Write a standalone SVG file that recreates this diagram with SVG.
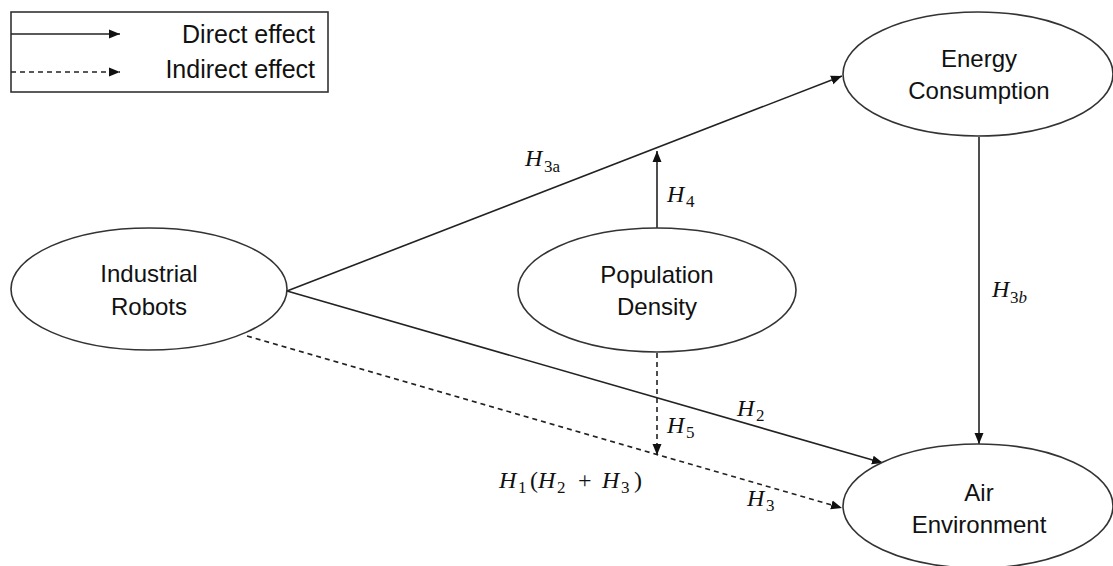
<svg xmlns="http://www.w3.org/2000/svg" width="1113" height="566" viewBox="0 0 1113 566">
<defs>
<marker id="arr" markerUnits="userSpaceOnUse" markerWidth="12" markerHeight="10" refX="11" refY="5" orient="auto">
<path d="M0,0.5 L11,5 L0,9.5 Z" fill="#111"/>
</marker>
</defs>
<style>
.node{fill:#fff;stroke:#333;stroke-width:1.6}
.lbl{font-family:"Liberation Sans",Arial,sans-serif;font-size:24px;fill:#111;text-anchor:middle}
.leg{font-family:"Liberation Sans",Arial,sans-serif;font-size:25px;fill:#111;text-anchor:end}
.ln{stroke:#222;stroke-width:1.6;fill:none}
.dash{stroke-dasharray:5,4}
.m{font-family:"Liberation Serif","Times New Roman",serif;font-size:24px;font-style:italic;fill:#111}
.s{font-family:"Liberation Serif","Times New Roman",serif;font-size:17px;fill:#111}
.u{font-family:"Liberation Serif","Times New Roman",serif;font-size:24px;fill:#111}
</style>
<rect width="1113" height="566" fill="#fff"/>
<g id="legend">
<rect x="11" y="12" width="317" height="80" fill="#fff" stroke="#333" stroke-width="1.6"/>
<line class="ln" x1="11" y1="34" x2="120" y2="34" marker-end="url(#arr)"/>
<line class="ln dash" x1="11" y1="72" x2="120" y2="72" marker-end="url(#arr)"/>
<text class="leg" x="315" y="43">Direct effect</text>
<text class="leg" x="315" y="78">Indirect effect</text>
</g>
<g id="connectors">
<line class="ln" x1="287" y1="291" x2="842" y2="76" marker-end="url(#arr)"/>
<line class="ln" x1="287" y1="291" x2="883" y2="463" marker-end="url(#arr)"/>
<line class="ln dash" x1="247" y1="336" x2="842" y2="508" marker-end="url(#arr)"/>
<line class="ln" x1="657" y1="228" x2="657" y2="151" marker-end="url(#arr)"/>
<line class="ln dash" x1="657" y1="353" x2="657" y2="455" marker-end="url(#arr)"/>
<line class="ln" x1="979" y1="137" x2="979" y2="444" marker-end="url(#arr)"/>
</g>
<g id="node-industrial-robots">
<ellipse class="node" cx="149" cy="289" rx="138" ry="61"/>
<text class="lbl" x="149" y="282">Industrial</text>
<text class="lbl" x="149" y="315">Robots</text>
</g>
<g id="node-population-density">
<ellipse class="node" cx="657" cy="290" rx="139" ry="62"/>
<text class="lbl" x="657" y="283">Population</text>
<text class="lbl" x="657" y="315">Density</text>
</g>
<g id="node-energy-consumption">
<ellipse class="node" cx="978" cy="74" rx="135" ry="62"/>
<text class="lbl" x="979" y="67">Energy</text>
<text class="lbl" x="979" y="99">Consumption</text>
</g>
<g id="node-air-environment">
<ellipse class="node" cx="978" cy="506" rx="135" ry="62"/>
<text class="lbl" x="979" y="501">Air</text>
<text class="lbl" x="979" y="533">Environment</text>
</g>
<g id="labels">
<text class="m" x="525" y="166">H</text><text class="s" x="544" y="172">3a</text>
<text class="m" x="667" y="202">H</text><text class="s" x="686" y="207">4</text>
<text class="m" x="992" y="297">H</text><text class="s" x="1010" y="303">3<tspan font-style="italic">b</tspan></text>
<text class="m" x="737" y="416">H</text><text class="s" x="756" y="421">2</text>
<text class="m" x="667" y="433">H</text><text class="s" x="686" y="438">5</text>
<text class="m" x="747" y="506">H</text><text class="s" x="766" y="511">3</text>
<text class="m" x="499" y="488">H</text><text class="s" x="518" y="493">1</text>
<text class="u" x="530" y="488">(</text>
<text class="m" x="538" y="488">H</text><text class="s" x="557" y="493">2</text>
<text class="u" x="578" y="488" font-size="27">+</text>
<text class="m" x="602" y="488">H</text><text class="s" x="621" y="493">3</text>
<text class="u" x="634" y="488">)</text>
</g>
</svg>
